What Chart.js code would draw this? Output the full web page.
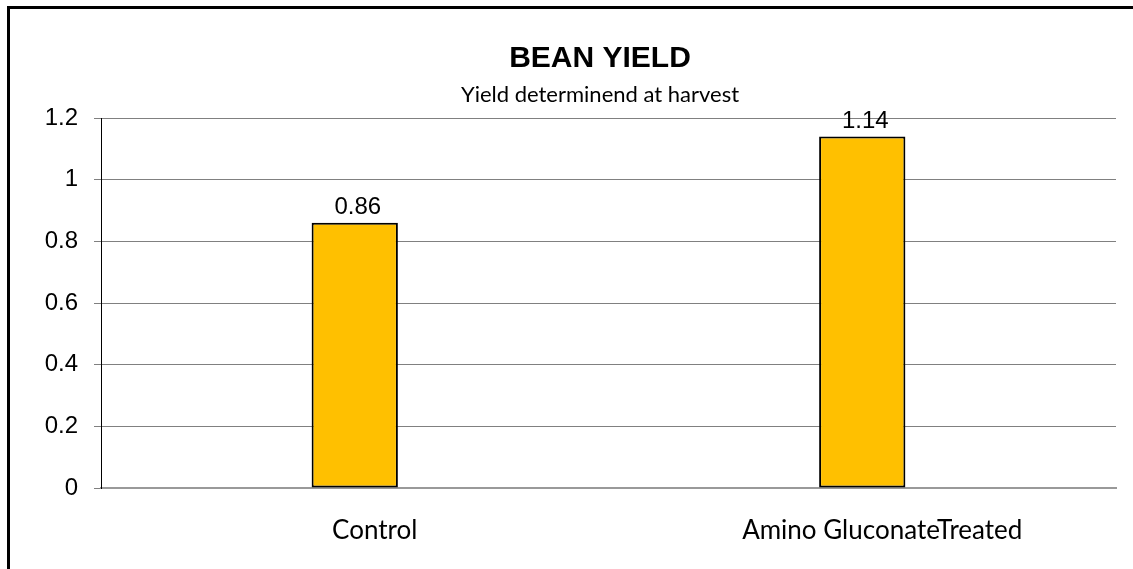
<!DOCTYPE html>
<html>
<head>
<meta charset="utf-8">
<script src="https://cdn.jsdelivr.net/npm/chart.js@4"></script>
<style>
  html, body { margin: 0; padding: 0; background: #fff; overflow: hidden; }
  #wrap { position: relative; width: 1133px; height: 569px; overflow: hidden; }
  #frame { position: absolute; left: 7px; top: 6px; right: -10px; bottom: -10px;
           border-left: 3px solid #000; border-top: 3px solid #000; pointer-events: none; }
</style>
</head>
<body>
<div id="wrap">
  <!-- canvas is wider than the window so the title centres like the original frame -->
  <canvas id="myChart" width="1200" height="569"></canvas>
  <div id="frame"></div>
</div>
<script>
// Chart data
var categories = ['Control', 'Amino GluconateTreated'];
var yieldValues = [0.86, 1.14];

// Draw value labels above each bar
var valueLabels = {
    id: 'valueLabels',
    afterDatasetsDraw: function(chart) {
        var ctx = chart.ctx;
        var meta = chart.getDatasetMeta(0);
        ctx.save();
        ctx.font = '24px "Liberation Sans", Arial, sans-serif';
        ctx.fillStyle = '#000';
        ctx.textAlign = 'center';
        ctx.textBaseline = 'alphabetic';
        meta.data.forEach(function(bar, i) {
            ctx.fillText(String(yieldValues[i]), bar.x + 3, bar.y - 9);
        });
        ctx.restore();
    }
};

var ctx = document.getElementById('myChart').getContext('2d');
var myChart = new Chart(ctx, {
    type: 'bar',
    data: {
        labels: categories,
        datasets: [{
            label: 'Bean yield',
            data: yieldValues,
            backgroundColor: '#FFC000',
            borderColor: '#000',
            borderWidth: 2,
            borderSkipped: false,
            barPercentage: 1,
            categoryPercentage: 0.17,
            yAxisID: 'y'
        }]
    },
    options: {
        responsive: false,
        animation: false,
        layout: { padding: 0 },
        plugins: {
            legend: { display: false },
            tooltip: { enabled: false },
            title: {
                display: true,
                text: 'BEAN YIELD',
                color: '#000',
                font: { family: '"Liberation Sans", Arial, sans-serif', size: 30, weight: 'bold', lineHeight: 1.2 },
                padding: { top: 41, bottom: 2 }
            },
            subtitle: {
                display: true,
                text: 'Yield determinend at harvest',
                color: '#000',
                font: { family: 'Lato, "Open Sans", sans-serif', size: 22, lineHeight: 1.2 },
                padding: { top: 3, bottom: 9.6 }
            }
        },
        scales: {
            x: {
                grid: { display: false, drawTicks: false },
                border: { display: true, color: '#999', width: 2 },
                ticks: {
                    color: '#000',
                    padding: 27,
                    labelOffset: 20,
                    font: { family: 'Lato, "Open Sans", sans-serif', size: 26 }
                },
                afterFit: function(scale) { scale.height = 81; }
            },
            y: {
                min: 0,
                max: 1.2,
                ticks: {
                    stepSize: 0.2,
                    color: '#000',
                    padding: 16,
                    font: { family: '"Liberation Sans", Arial, sans-serif', size: 24 },
                    callback: function(value) { return String(Number(value.toFixed(1))); }
                },
                grid: { color: '#808080', lineWidth: 1, tickLength: 7 },
                border: { display: true, color: '#000', width: 1 },
                afterFit: function(scale) { scale.width = 101; }
            },
            // empty spacer on the right so the plot ends where the original does
            spacer: {
                type: 'linear',
                position: 'right',
                grid: { display: false, drawTicks: false },
                border: { display: false },
                ticks: { display: false },
                afterFit: function(scale) { scale.width = 84; }
            }
        }
    },
    plugins: [valueLabels]
});
</script>
</body>
</html>
